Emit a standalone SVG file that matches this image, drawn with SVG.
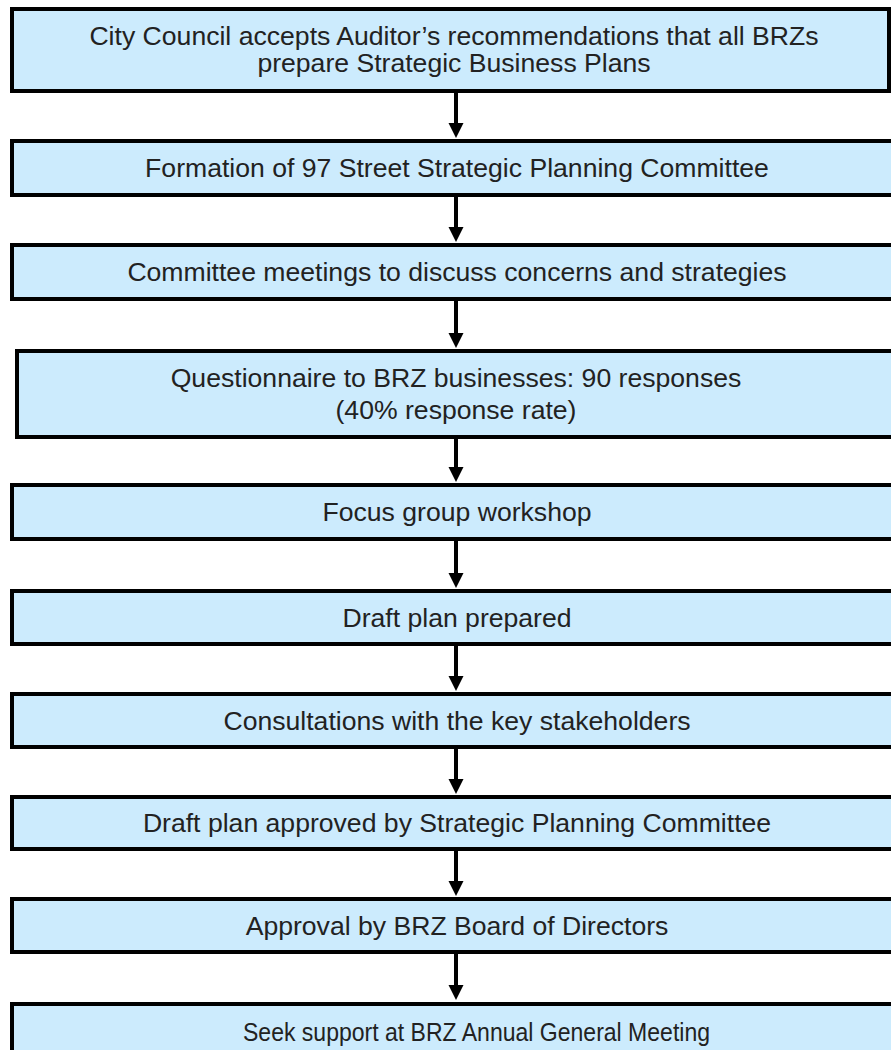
<svg xmlns="http://www.w3.org/2000/svg" width="891" height="1050" viewBox="0 0 891 1050">
<style>
.box{fill:#CCEBFD;stroke:#000;stroke-width:4}
.t{font-family:"Liberation Sans",Arial,sans-serif;font-size:26.6px;fill:#222;text-anchor:middle}
.c{stroke:#000;stroke-width:4;fill:none}
.h{fill:#000}
</style>
<g id="connectors">
<line class="c" x1="456" y1="93" x2="456" y2="124"/><polygon class="h" points="448.5,123 463.5,123 456,138"/>
<line class="c" x1="456" y1="197" x2="456" y2="228"/><polygon class="h" points="448.5,227 463.5,227 456,242"/>
<line class="c" x1="456" y1="301" x2="456" y2="334"/><polygon class="h" points="448.5,333 463.5,333 456,348"/>
<line class="c" x1="456" y1="439" x2="456" y2="468"/><polygon class="h" points="448.5,467 463.5,467 456,482"/>
<line class="c" x1="456" y1="541" x2="456" y2="574"/><polygon class="h" points="448.5,573 463.5,573 456,588"/>
<line class="c" x1="456" y1="646" x2="456" y2="677"/><polygon class="h" points="448.5,676 463.5,676 456,691"/>
<line class="c" x1="456" y1="749" x2="456" y2="780"/><polygon class="h" points="448.5,779 463.5,779 456,794"/>
<line class="c" x1="456" y1="851" x2="456" y2="882"/><polygon class="h" points="448.5,881 463.5,881 456,896"/>
<line class="c" x1="456" y1="954" x2="456" y2="986"/><polygon class="h" points="448.5,985 463.5,985 456,1000"/>
</g>
<g id="n1"><rect class="box" x="12" y="9" width="877" height="82"/><text class="t" x="454" y="45">City Council accepts Auditor’s recommendations that all BRZs</text><text class="t" x="454" y="72">prepare Strategic Business Plans</text></g>
<g id="n2"><rect class="box" x="12" y="141" width="890" height="54"/><text class="t" x="457" y="177">Formation of 97 Street Strategic Planning Committee</text></g>
<g id="n3"><rect class="box" x="12" y="245" width="890" height="54"/><text class="t" x="457" y="281">Committee meetings to discuss concerns and strategies</text></g>
<g id="n4"><rect class="box" x="17" y="351" width="890" height="86"/><text class="t" x="456" y="387">Questionnaire to BRZ businesses: 90 responses</text><text class="t" x="456" y="419">(40% response rate)</text></g>
<g id="n5"><rect class="box" x="12" y="485" width="890" height="54"/><text class="t" x="457" y="521">Focus group workshop</text></g>
<g id="n6"><rect class="box" x="12" y="591" width="890" height="53"/><text class="t" x="457" y="627">Draft plan prepared</text></g>
<g id="n7"><rect class="box" x="12" y="694" width="890" height="53"/><text class="t" x="457" y="730">Consultations with the key stakeholders</text></g>
<g id="n8"><rect class="box" x="12" y="797" width="890" height="52"/><text class="t" x="457" y="832">Draft plan approved by Strategic Planning Committee</text></g>
<g id="n9"><rect class="box" x="12" y="899" width="890" height="53"/><text class="t" x="457" y="935">Approval by BRZ Board of Directors</text></g>
<g id="n10"><rect class="box" x="12" y="1004" width="890" height="60"/><text class="t" x="476.5" y="1041" textLength="467" lengthAdjust="spacingAndGlyphs">Seek support at BRZ Annual General Meeting</text></g>
</svg>
